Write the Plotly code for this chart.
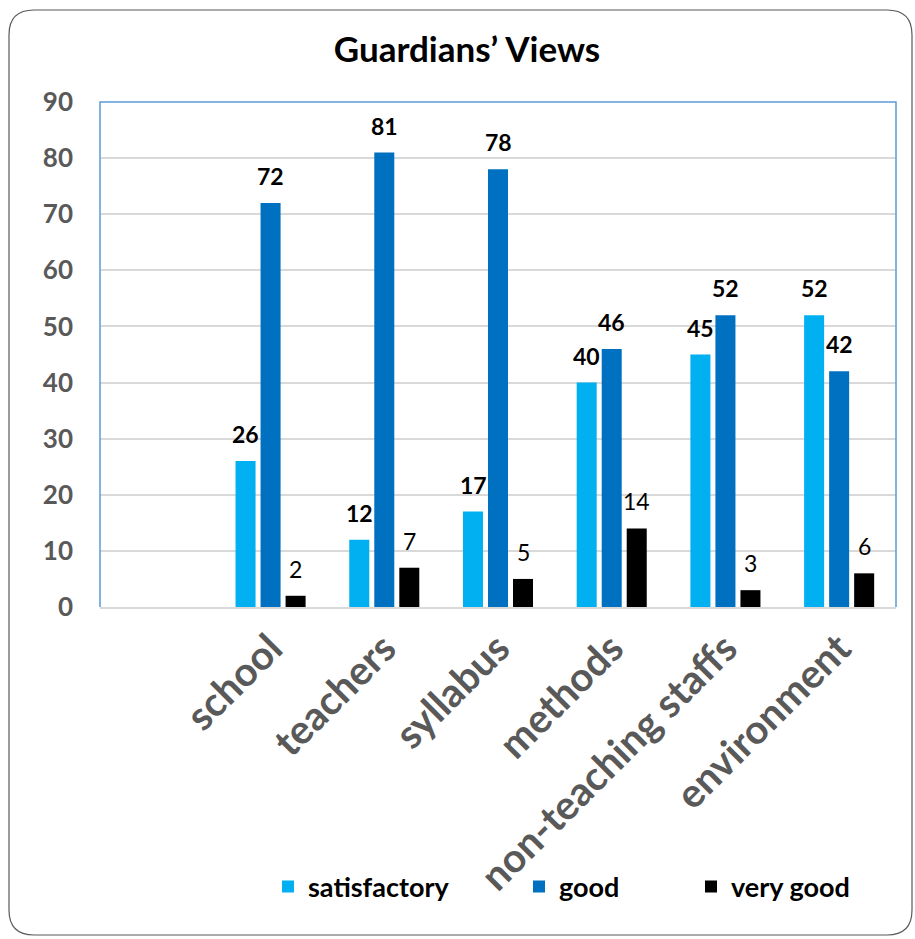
import plotly.graph_objects as go

categories = ["school", "teachers", "syllabus", "methods", "non-teaching staffs", "environment"]
satisfactory = [26, 12, 17, 40, 45, 52]
good = [72, 81, 78, 46, 52, 42]
very_good = [2, 7, 5, 14, 3, 6]
series_names = ["satisfactory", "good", "very good"]
y_ticks = [0, 10, 20, 30, 40, 50, 60, 70, 80, 90]

W, H = 915, 939
L, R, T, B = 100, 19, 102, 332
PW, PH = W - L - R, H - T - B

colors = ["#00B0F0", "#0070C0", "#000000"]
FONT = "Lato"

fig = go.Figure()
series = [satisfactory, good, very_good]
legend_ids = ["legend", "legend2", "legend3"]
for name, vals, col, lg in zip(series_names, series, colors, legend_ids):
    fig.add_trace(go.Bar(
        x=categories, y=vals, name=name, marker=dict(color=col, line=dict(width=0)),
        legend=lg, showlegend=True,
    ))

# data labels
offsets = [-25, 0, 25]
bold = [True, True, False]
for vals, off, b in zip(series, offsets, bold):
    for c, v in zip(categories, vals):
        fig.add_annotation(
            x=c, y=v, xref="x", yref="y", text=(f"<b>{v}</b>" if b else str(v)),
            showarrow=False, xshift=off, yshift=27, yanchor="middle",
            font=dict(family=FONT, size=23, color="#000000"),
        )

def px_x(p):
    return (p - L) / PW

def px_y(p):
    return (H - B - p) / PH

# outer rounded border
x0, x1, y0, y1 = px_x(9), px_x(912), px_y(935), px_y(10)
rx, ry = 25 / PW, 25 / PH
path = (f"M {x0+rx},{y1} L {x1-rx},{y1} Q {x1},{y1} {x1},{y1-ry} "
        f"L {x1},{y0+ry} Q {x1},{y0} {x1-rx},{y0} L {x0+rx},{y0} "
        f"Q {x0},{y0} {x0},{y0+ry} L {x0},{y1-ry} Q {x0},{y1} {x0+rx},{y1} Z")
fig.add_shape(type="path", path=path, xref="paper", yref="paper",
              line=dict(color="#595959", width=1.2), layer="below")
# plot area border (left, top, right)
fig.add_shape(type="path", path="M 0,0 L 0,1 L 1,1 L 1,0", xref="paper", yref="paper",
              line=dict(color="#5B9BD5", width=1.5), layer="above")

leg_common = dict(orientation="h", yanchor="middle", xanchor="left",
                  font=dict(family=FONT, size=27, color="#000000", weight="bold"),
                  bgcolor="rgba(0,0,0,0)", borderwidth=0, visible=True)
leg_x = [px_x(268), px_x(519), px_x(691)]
fig.update_layout(
    width=W, height=H, showlegend=True,
    margin=dict(l=L, r=R, t=T, b=B, autoexpand=False),
    paper_bgcolor="white", plot_bgcolor="white",
    barmode="group", bargap=0.34, bargroupgap=0.2,
    title=dict(text="Guardians’ Views", x=467 / W, xref="container", xanchor="center",
               y=1 - 50 / H, yref="container", yanchor="middle",
               font=dict(family=FONT, size=35, color="#000000", weight="bold")),
    legend=dict(x=leg_x[0], y=px_y(887), **leg_common),
    legend2=dict(x=leg_x[1], y=px_y(887), **leg_common),
    legend3=dict(x=leg_x[2], y=px_y(887), **leg_common),
    xaxis=dict(
        type="category", categoryorder="array", categoryarray=categories,
        range=[-1.5, 5.5], tickangle=-45, showgrid=False, ticks="",
        showline=True, linecolor="#D9D9D9", linewidth=2,
        tickfont=dict(family=FONT, size=40, color="#595959", weight="bold"),
    ),
    yaxis=dict(
        range=[0, 90], tickvals=y_ticks, showgrid=True, gridcolor="#D9D9D9", gridwidth=1.5,
        zeroline=False, showline=False, ticks="",
        tickfont=dict(family=FONT, size=26, color="#595959", weight="bold"),
        ticklabelstandoff=26,
    ),
)

fig.write_html("out.html")
